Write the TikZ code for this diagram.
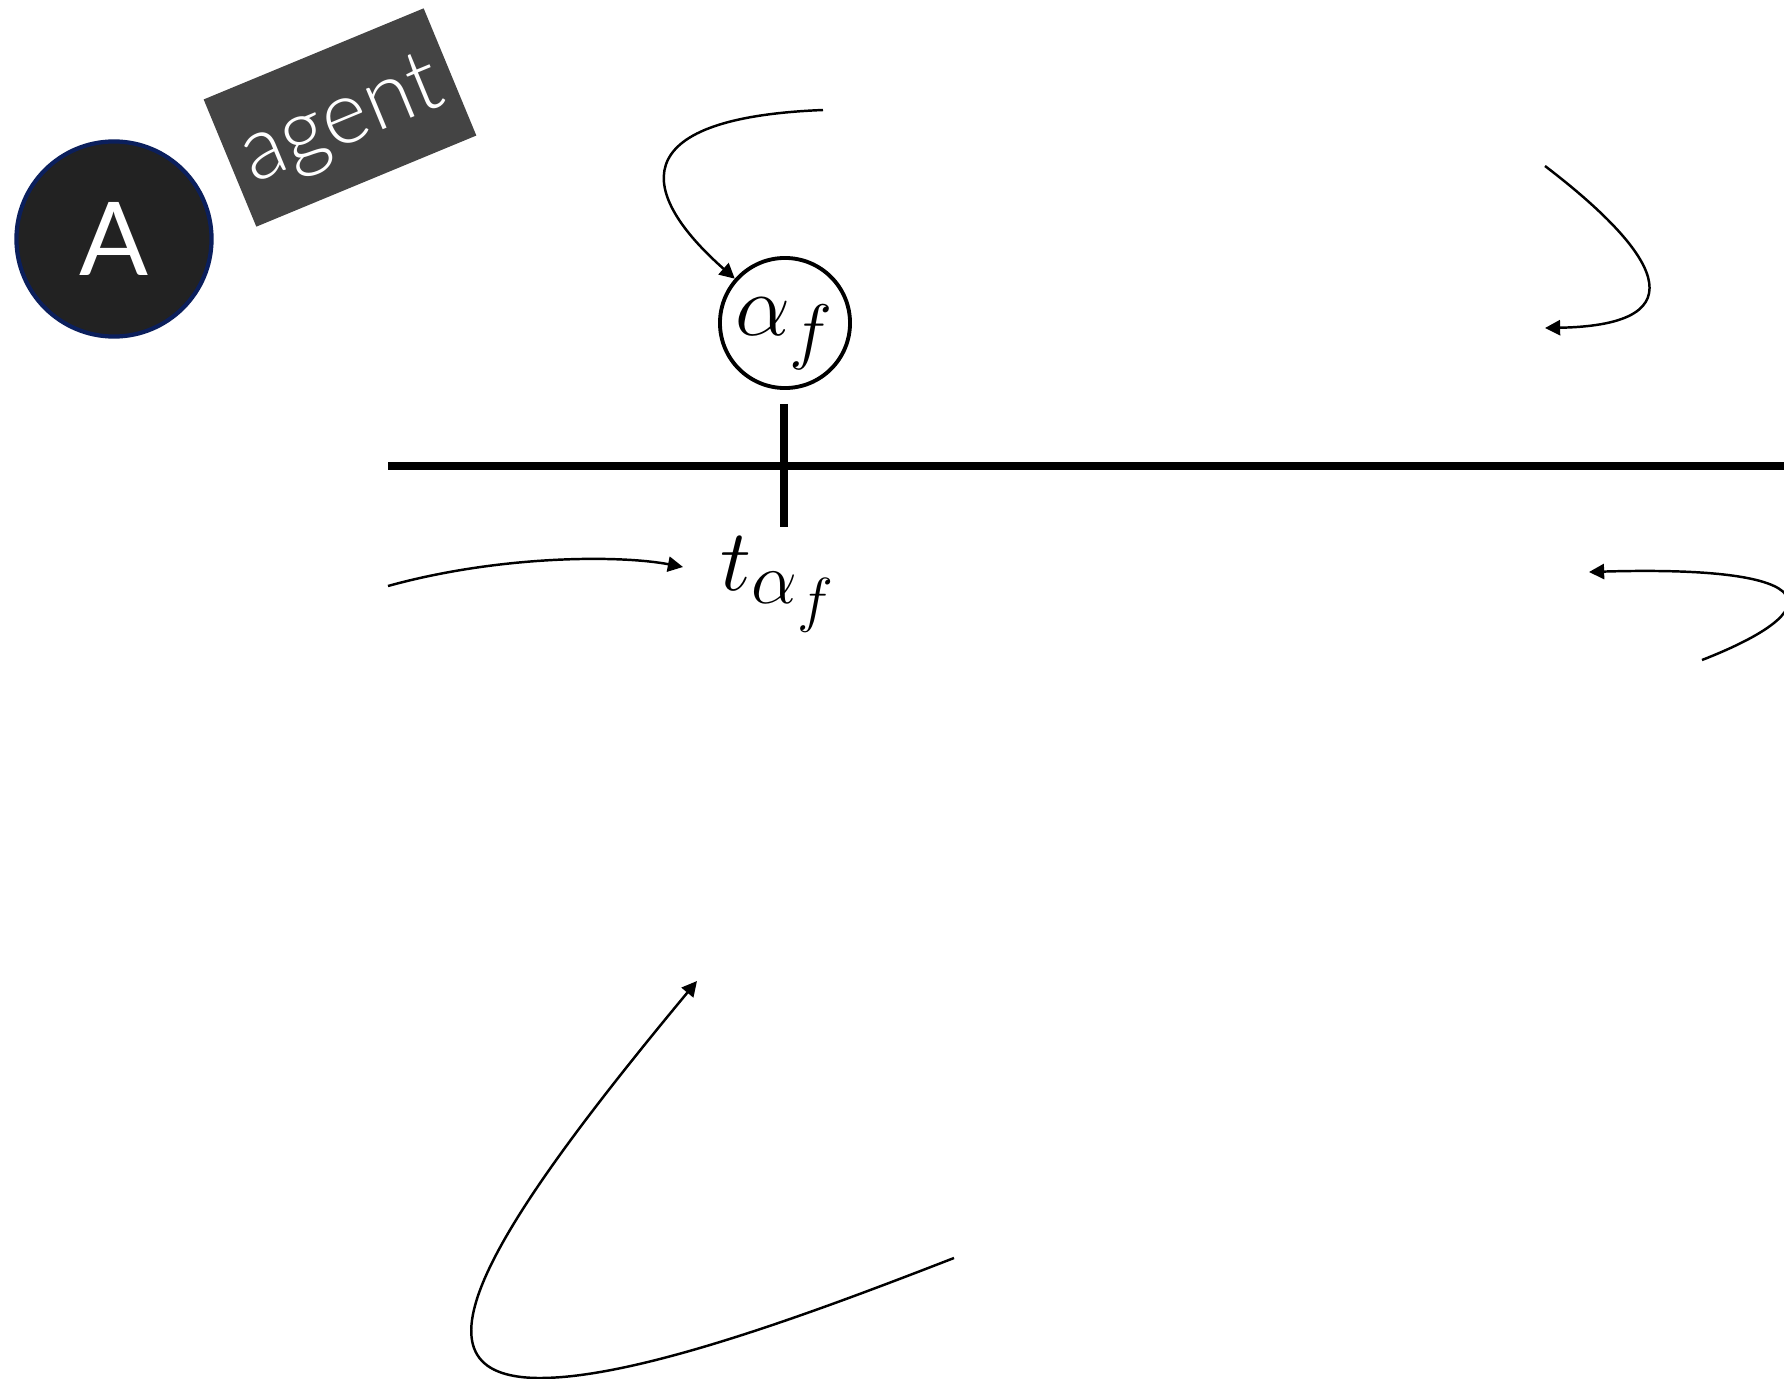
\documentclass[tikz,border=0pt]{standalone}
\usepackage{amsmath}
\usepackage{fontspec}
\usetikzlibrary{arrows.meta}
\newfontfamily\agentfont{Lato}
\newfontfamily\agentlight{Lato Light}
\DeclareMathSizes{30}{30}{22.5}{17}
\definecolor{AgentFill}{HTML}{222222}
\definecolor{AgentRing}{HTML}{0B1F5C}
\definecolor{TagFill}{HTML}{444444}

\begin{document}
\begin{tikzpicture}[x=0.01cm, y=-0.01cm,
    agentnode/.style={circle, draw=AgentRing, fill=AgentFill, line width=1.2pt,
                      minimum size=1.95cm, inner sep=0pt, text=white,
                      font=\agentfont\fontsize{29}{34}\selectfont},
    agenttag/.style={rectangle, fill=TagFill, minimum width=2.38cm, minimum height=1.376cm,
                     inner sep=0pt, text height=0.56cm, text depth=0pt, text=white,
                     font=\agentlight\fontsize{25}{30}\selectfont, rotate=22.5},
    evnode/.style={circle, draw, line width=1.1pt, minimum size=1.3cm, inner sep=0pt,
                   text height=0.5cm, text depth=0.26cm,
                   font=\fontsize{30}{35}\selectfont},
    tlabel/.style={inner sep=0pt, anchor=base west, font=\fontsize{30}{35}\selectfont},
    timeline/.style={line width=2.3pt},
    arr/.style={-{Triangle[length=4.3pt, width=4.3pt]}, line width=0.7pt}
  ]
  \useasboundingbox (0,0) rectangle (1784,1379);

  % agent badge
  \node[agentnode] (agent) at (114,239) {A};
  \node[agenttag] (tag) at (340,117.5) {agent};

  % time line with the event
  \coordinate (tl0) at (388,466);
  \coordinate (tl1) at (1800,466);
  \draw[timeline] (tl0) -- (tl1);
  \coordinate (tk0) at (784,404);
  \coordinate (tk1) at (784,527);
  \draw[timeline] (tk0) -- (tk1);
  \node[evnode] (af) at (785,323) {$\alpha_f$};
  \node[tlabel] (taf) at (720,590) {$t_{\alpha_f}$};

  % arrows
  \coordinate (s1) at (823,110);
  \draw[arr] (s1) .. controls (620,118) and (640,195) .. (af);
  \coordinate (s2) at (1545,166);
  \coordinate (e2) at (1545,328);
  \draw[arr] (s2) .. controls (1655,250) and (1705,325) .. (e2);
  \coordinate (s3) at (388,586);
  \coordinate (e3) at (683,567);
  \draw[arr] (s3) .. controls (500,555) and (620,555) .. (e3);
  \coordinate (s4) at (1702,660);
  \coordinate (e4) at (1589,572);
  \draw[arr] (s4) .. controls (1830,610) and (1830,565) .. (e4);
  \coordinate (s5) at (954,1258);
  \coordinate (w5) at (540,1378);
  \coordinate (e5) at (697,981);
  \draw[arr] (s5) .. controls (820,1310) and (640,1378) .. (w5)
                  .. controls (400,1378) and (486,1235) .. (e5);
\end{tikzpicture}
\end{document}
